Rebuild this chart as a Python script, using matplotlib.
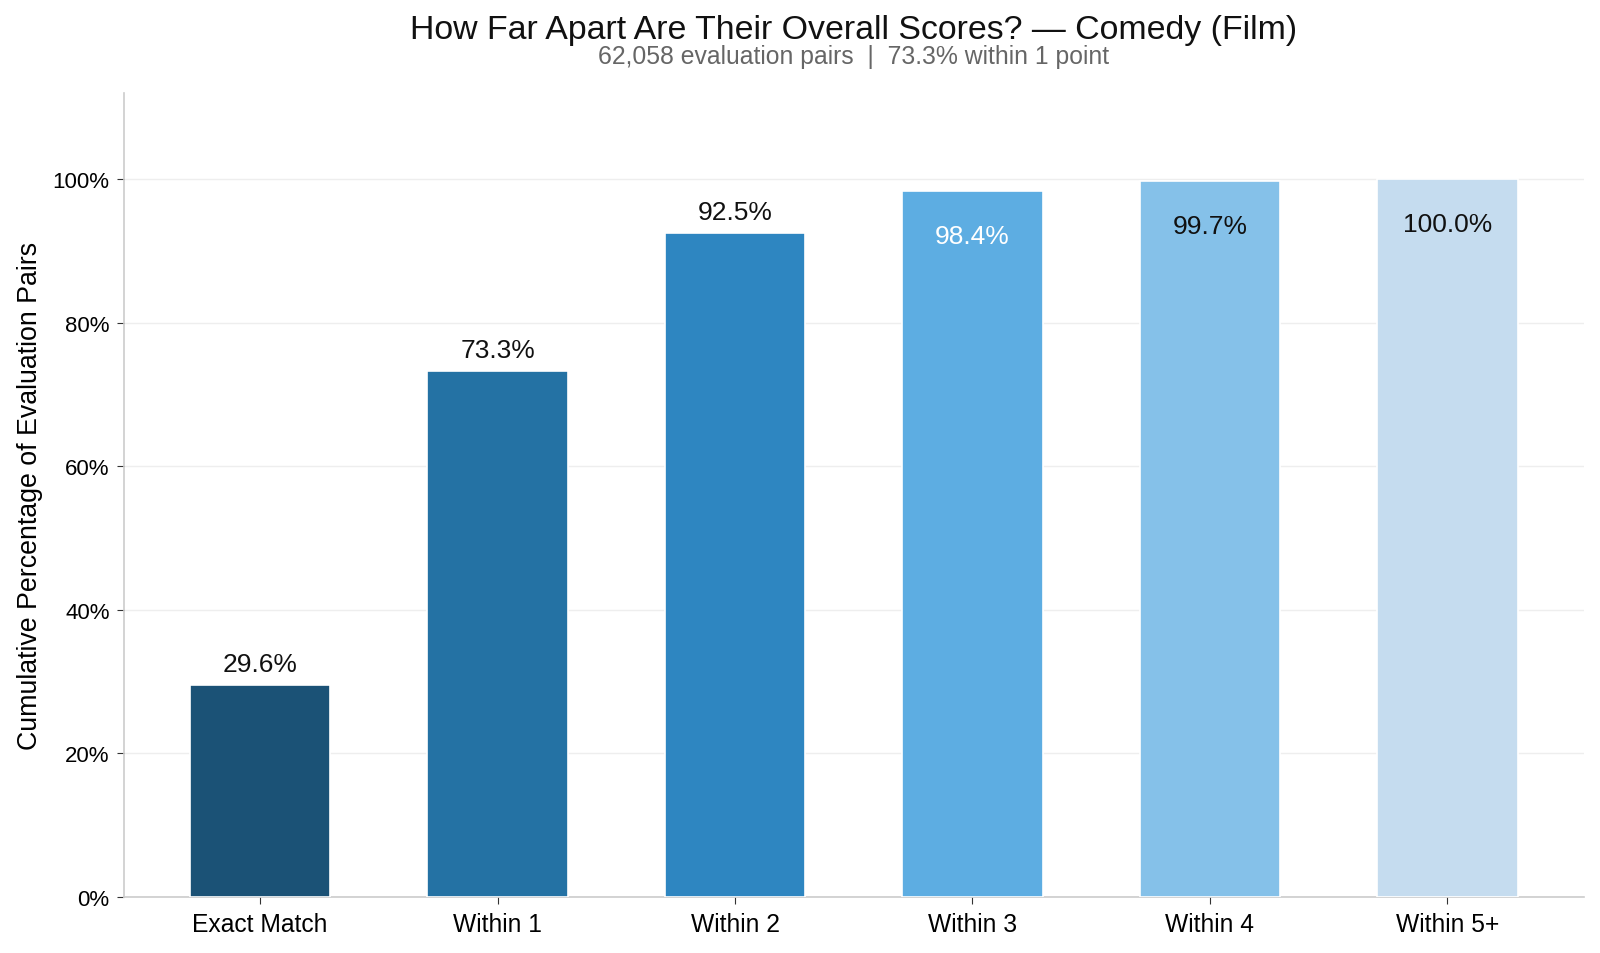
import matplotlib
matplotlib.use("Agg")
import matplotlib.pyplot as plt
from matplotlib.ticker import FuncFormatter

categories = ["Exact Match", "Within 1", "Within 2", "Within 3", "Within 4", "Within 5+"]
values = [29.6, 73.3, 92.5, 98.4, 99.7, 100.0]
colors = ["#1b5276", "#2472a4", "#2e86c1", "#5dade2", "#85c1e9", "#c5dcef"]
label_inside = [False, False, False, True, True, True]
label_colors = ["#111111", "#111111", "#111111", "white", "#111111", "#111111"]
yticks = [0, 20, 40, 60, 80, 100]

plt.rcParams['font.family'] = ['Liberation Sans', 'DejaVu Sans']

fig = plt.figure(figsize=(16, 9.54), dpi=100)
ax = fig.add_axes([123.5/1600, 1 - 898/954, (1584-123.5)/1600, (898-94)/954])

x = list(range(len(categories)))
bars = ax.bar(x, values, width=0.59, color=colors, edgecolor="white", linewidth=1.2, zorder=3)

for xi, v, inside, lc in zip(x, values, label_inside, label_colors):
    if inside:
        ax.text(xi, v - 4.6, f"{v:.1f}%", ha="center", va="top", fontsize=19, color=lc, zorder=4)
    else:
        ax.text(xi, v + 1.2, f"{v:.1f}%", ha="center", va="bottom", fontsize=19, color=lc, zorder=4)

ax.set_xlim(-0.575, 5.575)
ax.set_ylim(0, 112)
ax.set_yticks(yticks)
ax.yaxis.set_major_formatter(FuncFormatter(lambda v, p: f"{v:.0f}%"))
ax.set_xticks(x)
ax.set_xticklabels(categories, fontsize=17.7)
ax.tick_params(axis="y", labelsize=16, length=5, color="#333333", pad=5)
ax.tick_params(axis="x", length=5, color="#333333", pad=6)
ax.grid(axis="y", color="#eeeeee", linewidth=1, zorder=0)
ax.set_axisbelow(True)
for s in ["top", "right"]:
    ax.spines[s].set_visible(False)
for s in ["left", "bottom"]:
    ax.spines[s].set_color("#cccccc")
    ax.spines[s].set_linewidth(1.2)

ax.set_ylabel("Cumulative Percentage of Evaluation Pairs", fontsize=19.3, labelpad=7)

cx = (123.5 + 1584) / 2 / 1600
fig.text(cx, 1 - 31/954, "How Far Apart Are Their Overall Scores? \u2014 Comedy (Film)",
         ha="center", va="center", fontsize=24.4, color="#111111")
fig.text(cx, 1 - 57/954, "62,058 evaluation pairs  |  73.3% within 1 point",
         ha="center", va="center", fontsize=17.8, color="#666666")

fig.savefig("out.png", dpi=100, facecolor="white")
